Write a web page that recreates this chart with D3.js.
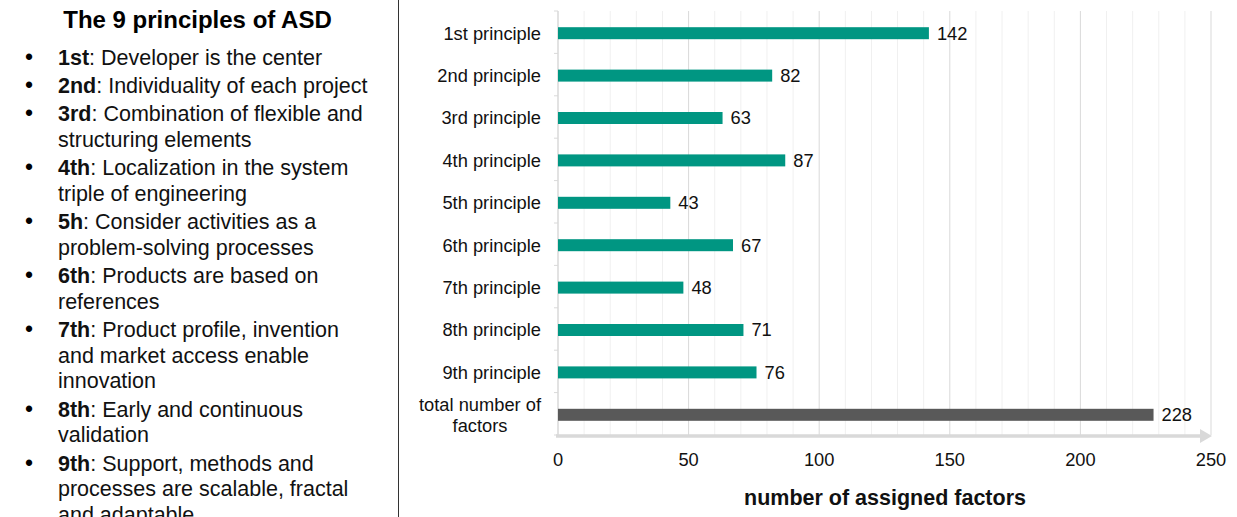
<!DOCTYPE html>
<html><head><meta charset="utf-8">
<script src="https://cdn.jsdelivr.net/npm/d3@7"></script>
<style>body{margin:0;background:#fff;}svg{display:block;font-family:"Liberation Sans",Arial,sans-serif;}</style>
</head><body><svg id="c" width="1237" height="517"></svg>
<script>
const categories = ["1st principle","2nd principle","3rd principle","4th principle","5th principle","6th principle","7th principle","8th principle","9th principle","total number of factors"];
const values = [142,82,63,87,43,67,48,71,76,228];
const xTicks = [0,50,100,150,200,250];
const principleTitle = "The 9 principles of ASD";
const principleKeys = ["1st","2nd","3rd","4th","5h","6th","7th","8th","9th"];
const principleLines = [
  [": Developer is the center"],
  [": Individuality of each project"],
  [": Combination of flexible and","structuring elements"],
  [": Localization in the system","triple of engineering"],
  [": Consider activities as a","problem-solving processes"],
  [": Products are based on","references"],
  [": Product profile, invention","and market access enable","innovation"],
  [": Early and continuous","validation"],
  [": Support, methods and","processes are scalable, fractal","and adaptable"]
];

const svg = d3.select("#c");
const m = {left:558, right:1211, top:11, bottom:435};
const x = d3.scaleLinear().domain([0,250]).range([m.left,m.right]);
const y = d3.scaleBand().domain(categories).range([m.top,m.bottom]);
const FS = 18.3;

// gridlines
svg.append("g").selectAll("line").data(d3.range(10,251,10)).join("line")
  .attr("x1",d=>x(d)).attr("x2",d=>x(d)).attr("y1",m.top).attr("y2",m.bottom)
  .attr("stroke",d=>d%50===0?"#d9d9d9":"#f0f0f0").attr("stroke-width",1);

// y axis line and ticks
svg.append("line").attr("x1",m.left).attr("x2",m.left).attr("y1",m.top).attr("y2",m.bottom).attr("stroke","#d9d9d9").attr("stroke-width",1.5);
svg.selectAll("line.yt").data(d3.range(0,categories.length+1)).join("line")
  .attr("x1",m.left-4).attr("x2",m.left).attr("y1",i=>m.top+i*y.step()).attr("y2",i=>m.top+i*y.step())
  .attr("stroke","#d9d9d9");

// x axis arrow
svg.append("defs").append("marker").attr("id","arr").attr("markerUnits","userSpaceOnUse")
  .attr("viewBox","0 0 12 14").attr("refX",0).attr("refY",7)
  .attr("markerWidth",12).attr("markerHeight",14).attr("orient","auto")
  .append("path").attr("d","M0,0L12,7L0,14Z").attr("fill","#d9d9d9");
svg.append("line").attr("x1",m.left-2).attr("x2",x(250)-11).attr("y1",m.bottom+1).attr("y2",m.bottom+1)
  .attr("stroke","#d9d9d9").attr("stroke-width",3.5).attr("marker-end","url(#arr)");

// bars
const bh = 12;
svg.selectAll("rect.bar").data(categories).join("rect")
  .attr("x",x(0)).attr("y",(d)=>y(d)+y.bandwidth()/2-bh/2+1)
  .attr("width",(d,i)=>x(values[i])-x(0)).attr("height",bh)
  .attr("fill",(d,i)=>i===categories.length-1?"#595959":"#009682");
svg.selectAll("text.val").data(categories).join("text")
  .attr("x",(d,i)=>x(values[i])+8).attr("y",d=>y(d)+y.bandwidth()/2+1).attr("dy","0.35em")
  .attr("font-size",FS).attr("fill","#111").text((d,i)=>values[i]);

// category labels
svg.selectAll("text.cat").data(categories).join("text")
  .attr("font-size",FS).attr("fill","#111")
  .each(function(d){
    const t = d3.select(this);
    const cy = y(d)+y.bandwidth()/2+1;
    if(d==="total number of factors"){
      t.attr("text-anchor","middle");
      t.append("tspan").attr("x",480).attr("y",cy-10).attr("dy","0.35em").text("total number of");
      t.append("tspan").attr("x",480).attr("y",cy+11).attr("dy","0.35em").text("factors");
    } else {
      t.attr("text-anchor","end");
      t.append("tspan").attr("x",541).attr("y",cy).attr("dy","0.35em").text(d);
    }
  });

// x tick labels
svg.selectAll("text.xt").data(xTicks).join("text")
  .attr("x",d=>x(d)).attr("y",466).attr("text-anchor","middle").attr("font-size",FS).attr("fill","#111").text(d=>d);
svg.append("text").attr("x",885).attr("y",505).attr("text-anchor","middle").attr("font-size",21.5).attr("font-weight","bold").attr("fill","#111").text("number of assigned factors");

// left panel
svg.append("line").attr("x1",398.5).attr("x2",398.5).attr("y1",0).attr("y2",517).attr("stroke","#333").attr("stroke-width",1);
svg.append("text").attr("x",197.5).attr("y",28).attr("text-anchor","middle").attr("font-size",24).attr("font-weight","bold").attr("fill","#000").text(principleTitle);
let yy = 65;
principleKeys.forEach((k,i)=>{
  svg.append("text").attr("x",25).attr("y",yy).attr("font-size",23).attr("fill","#000").text("•");
  principleLines[i].forEach((ln,j)=>{
    const t = svg.append("text").attr("x",58).attr("y",yy).attr("font-size",21.5).attr("fill","#111");
    if(j===0){ t.append("tspan").attr("font-weight","bold").text(k); t.append("tspan").text(ln); }
    else t.text(ln);
    yy += 25.7;
  });
  yy += 2.5;
});
</script></body></html>
